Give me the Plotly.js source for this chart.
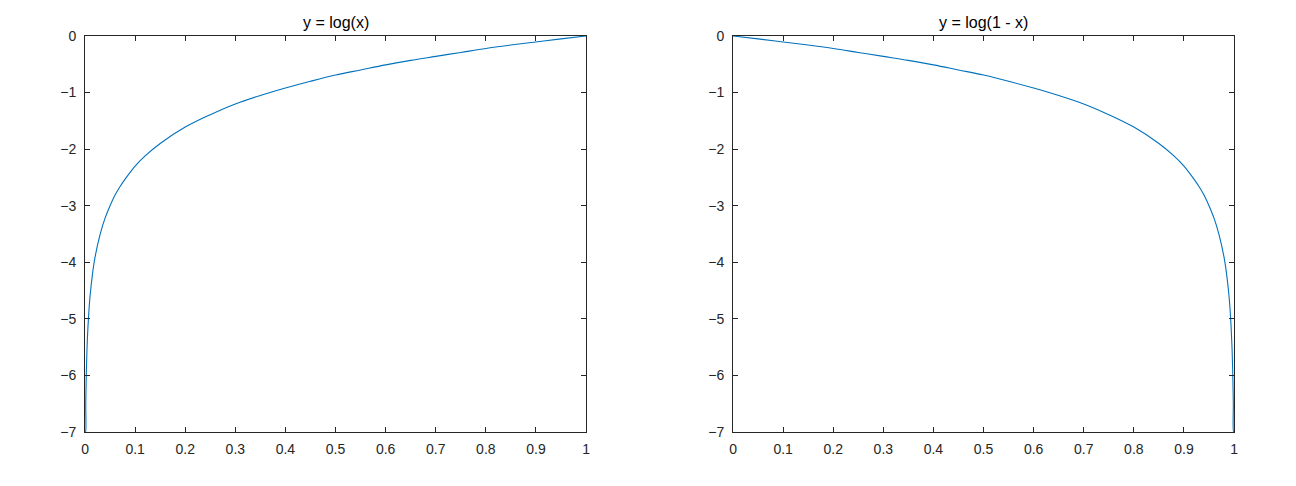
<!DOCTYPE html>
<html><head><meta charset="utf-8">
<script src="https://cdn.plot.ly/plotly-3.0.1.min.js"></script>
<style>html,body{margin:0;padding:0;background:#fff}#c{width:1296px;height:486px}</style>
</head><body><div id="c"></div>
<script>
// Values
const xLog = [0, 0.0009, 0.0015, 0.0025, 0.004, 0.006, 0.008, 0.01, 0.015, 0.02, 0.03, 0.04, 0.05, 0.06, 0.07, 0.08, 0.1, 0.12, 0.15, 0.2, 0.25, 0.3, 0.35, 0.4, 0.45, 0.5, 0.55, 0.6, 0.65, 0.7, 0.75, 0.8, 0.85, 0.9, 0.95, 1.0];
const yLog = [-7, -7.0, -6.5, -6.0, -5.52, -5.12, -4.83, -4.6, -4.2, -3.91, -3.51, -3.22, -3.0, -2.81, -2.66, -2.53, -2.3, -2.12, -1.9, -1.61, -1.39, -1.2, -1.05, -0.92, -0.8, -0.69, -0.6, -0.51, -0.43, -0.36, -0.29, -0.22, -0.16, -0.105, -0.05, 0];
const xLog1m = [0, 0.05, 0.1, 0.15, 0.2, 0.25, 0.3, 0.35, 0.4, 0.45, 0.5, 0.55, 0.6, 0.65, 0.7, 0.75, 0.8, 0.85, 0.88, 0.9, 0.92, 0.93, 0.94, 0.95, 0.96, 0.97, 0.98, 0.985, 0.99, 0.992, 0.994, 0.996, 0.9975, 0.9985, 0.9991, 1];
const yLog1m = [0, -0.05, -0.105, -0.16, -0.22, -0.29, -0.36, -0.43, -0.51, -0.6, -0.69, -0.8, -0.92, -1.05, -1.2, -1.39, -1.61, -1.9, -2.12, -2.3, -2.53, -2.66, -2.81, -3.0, -3.22, -3.51, -3.91, -4.2, -4.6, -4.83, -5.12, -5.52, -6.0, -6.5, -7.0, -7];
const xTicks = [0, 0.1, 0.2, 0.3, 0.4, 0.5, 0.6, 0.7, 0.8, 0.9, 1];
const xTickText = ['0','0.1','0.2','0.3','0.4','0.5','0.6','0.7','0.8','0.9','1'];
const yTicks = [-7, -6, -5, -4, -3, -2, -1, 0];
const titles = ['y = log(x)', 'y = log(1 - x)'];

const lineColor = '#0072bd';
const axCol = '#262626';
const tickFont = {family: 'Liberation Sans, Arial, sans-serif', size: 14, color: axCol};
const titleFont = {family: 'Liberation Sans, Arial, sans-serif', size: 16, color: '#000'};

function xa(dom, anchor) {
  return {domain: dom, range: [0, 1], tickvals: xTicks, ticktext: xTickText, ticks: 'inside', ticklen: 5,
    tickcolor: axCol, showline: true, linecolor: axCol, linewidth: 1, mirror: 'ticks', showgrid: false,
    zeroline: false, anchor: anchor, tickfont: tickFont, ticklabelstandoff: 4};
}
function ya(anchor) {
  return {domain: [0.1111, 0.9259], range: [-7, 0], tickvals: yTicks, ticks: 'inside', ticklen: 5,
    tickcolor: axCol, showline: true, linecolor: axCol, linewidth: 1, mirror: 'ticks', showgrid: false,
    zeroline: false, anchor: anchor, tickfont: tickFont, ticklabelstandoff: 5};
}

const data = [
  {x: xLog, y: yLog, type: 'scatter', mode: 'lines', line: {color: lineColor, width: 1.1, shape: 'spline', smoothing: 1}, xaxis: 'x', yaxis: 'y', hoverinfo: 'skip'},
  {x: xLog1m, y: yLog1m, type: 'scatter', mode: 'lines', line: {color: lineColor, width: 1.1, shape: 'spline', smoothing: 1}, xaxis: 'x2', yaxis: 'y2', hoverinfo: 'skip'}
];

const layout = {
  width: 1296, height: 486, margin: {l: 0, r: 0, t: 0, b: 0},
  paper_bgcolor: '#fff', plot_bgcolor: '#fff', showlegend: false,
  font: tickFont,
  xaxis: xa([0.0656, 0.4522], 'y'),
  yaxis: ya('x'),
  xaxis2: xa([0.5656, 0.9522], 'y2'),
  yaxis2: ya('x2'),
  annotations: [
    {text: titles[0], xref: 'paper', yref: 'paper', x: (0.0656 + 0.4522) / 2, y: 1 - 22 / 486, showarrow: false, xanchor: 'center', yanchor: 'middle', font: titleFont},
    {text: titles[1], xref: 'paper', yref: 'paper', x: (0.5656 + 0.9522) / 2, y: 1 - 22 / 486, showarrow: false, xanchor: 'center', yanchor: 'middle', font: titleFont}
  ]
};
Plotly.newPlot('c', data, layout, {staticPlot: true});
</script></body></html>
